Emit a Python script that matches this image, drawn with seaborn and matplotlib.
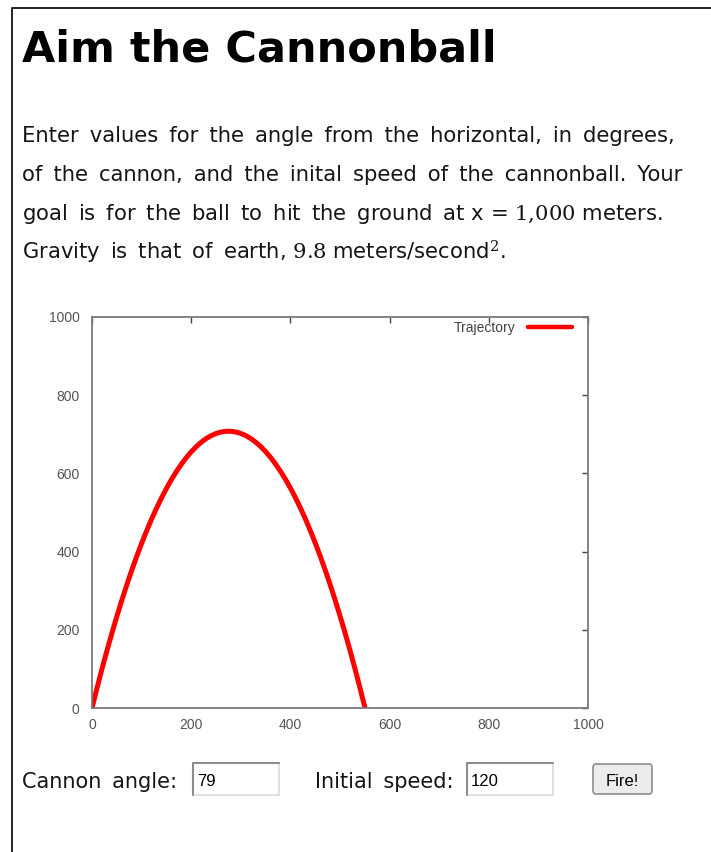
import numpy as np
import matplotlib
matplotlib.use("Agg")
import matplotlib.pyplot as plt
import seaborn as sns
from matplotlib.patches import Rectangle, FancyBboxPatch
from matplotlib.lines import Line2D

# trajectory (angle 79 deg, speed 120)
traj_x = [0, 10, 20, 30, 40, 50, 60, 70, 80, 90, 100, 110, 120, 130, 140,
          150, 160, 170, 180, 190, 200, 210, 220, 230, 240, 250, 260, 270,
          280, 290, 300, 310, 320, 330, 340, 350, 360, 370, 380, 390, 400,
          410, 420, 430, 440, 450, 460, 470, 480, 490, 500, 510, 520, 530,
          540, 550, 550.4]
traj_y = [0, 50.5, 99.2, 145.9, 190.8, 233.9, 275.0, 314.3, 351.8, 387.3,
          421.0, 452.8, 482.8, 510.8, 537.0, 561.4, 583.9, 604.5, 623.2,
          640.1, 655.1, 668.2, 679.5, 688.9, 696.4, 702.0, 705.8, 707.7,
          707.8, 705.9, 702.2, 696.7, 689.2, 679.9, 668.8, 655.7, 640.8,
          624.0, 605.4, 584.9, 562.5, 538.2, 512.1, 484.1, 454.2, 422.5,
          388.9, 353.4, 316.1, 276.9, 235.8, 192.9, 148.0, 101.3, 52.8,
          2.3, 0]
ticks = [0, 200, 400, 600, 800, 1000]
angle_value = "79"
speed_value = "120"

W, H = 711, 852
SP = " \u2009"  # wide word gap as in the page


def fx(x):
    return x / W


def fy(y):
    return 1 - y / H


sns.set_theme(style="white")
plt.rcParams["mathtext.fontset"] = "dejavuserif"

fig = plt.figure(figsize=(W / 100, H / 100), dpi=100)
fig.patch.set_facecolor("white")

# page border
fig.add_artist(Line2D([fx(12), fx(12), fx(711)], [fy(852), fy(8), fy(8)],
                      color="black", lw=1.2, transform=fig.transFigure))

fig.text(fx(22), fy(62), "Aim the Cannonball", fontsize=31, fontweight="bold",
         family="DejaVu Sans", color="black", va="baseline")

para = [
    "Enter values for the angle from the horizontal, in degrees,".replace(" ", SP),
    "of the cannon, and the inital speed of the cannonball. Your".replace(" ", SP),
    "goal is for the ball to hit the ground at".replace(" ", SP) + " x = $1{,}000$ meters.",
    "Gravity is that of earth,".replace(" ", SP) + " $9.8$ meters/second$^{2}$.",
]
for i, line in enumerate(para):
    fig.text(fx(22), fy(142 + 39 * i), line, fontsize=15.2,
             family="DejaVu Sans", color="#151515", va="baseline")

# chart
ax = fig.add_axes([fx(92), fy(708), (588 - 92) / W, (708 - 317) / H])
sns.lineplot(x=traj_x, y=traj_y, ax=ax, color="red", lw=3.6, sort=False,
             label="Trajectory")
ax.lines[0].set_solid_joinstyle("round")
ax.set_xlim(0, 1000)
ax.set_ylim(0, 1000)
ax.set_xticks(ticks)
ax.set_yticks(ticks)
for s in ax.spines.values():
    s.set_visible(True)
    s.set_color("#7a7a7a")
    s.set_linewidth(1.3)
ax.tick_params(direction="in", length=4, width=1, color="#444444",
               top=True, right=True, labelsize=10, labelcolor="#555555")
ax.tick_params(axis="y", pad=9)
ax.tick_params(axis="x", pad=7)
for lab in ax.get_xticklabels() + ax.get_yticklabels():
    lab.set_family("Liberation Sans")
leg = ax.legend(loc="upper right", frameon=False, markerfirst=False,
                bbox_to_anchor=((572 - 92) / 496, (708 - 321) / 391),
                borderpad=0, borderaxespad=0, handlelength=3.2,
                handletextpad=0.9, prop={"family": "Liberation Sans", "size": 10})
for t in leg.get_texts():
    t.set_color("#444444")
for h in leg.get_lines():
    h.set_linewidth(3.2)

# form row
fig.text(fx(22), fy(788), "Cannon angle:".replace(" ", SP), fontsize=15,
         family="DejaVu Sans", color="#151515", va="baseline")
fig.text(fx(315), fy(788), "Initial speed:".replace(" ", SP), fontsize=15,
         family="DejaVu Sans", color="#151515", va="baseline")

for x0, val in [(193, angle_value), (467, speed_value)]:
    fig.add_artist(Rectangle((fx(x0), fy(795)), 86 / W, 32 / H, transform=fig.transFigure,
                             facecolor="white", edgecolor="#dcdcdc", lw=1.2))
    fig.add_artist(Line2D([fx(x0), fx(x0), fx(x0 + 86)], [fy(795), fy(763), fy(763)],
                          color="#8c8c8c", lw=1.5, transform=fig.transFigure))
    fig.text(fx(x0 + 4), fy(786), val, fontsize=12, family="Liberation Sans",
             color="black", va="baseline")

fig.add_artist(FancyBboxPatch((fx(593), fy(794)), 59 / W, 30 / H,
                              boxstyle="round,pad=0,rounding_size=0.004",
                              transform=fig.transFigure, facecolor="#ececec",
                              edgecolor="#8e8e8e", lw=1.2))
fig.text(fx(622), fy(786), "Fire!", fontsize=12, family="Liberation Sans",
         color="black", va="baseline", ha="center")

fig.savefig("out.png", dpi=100, facecolor="white")
